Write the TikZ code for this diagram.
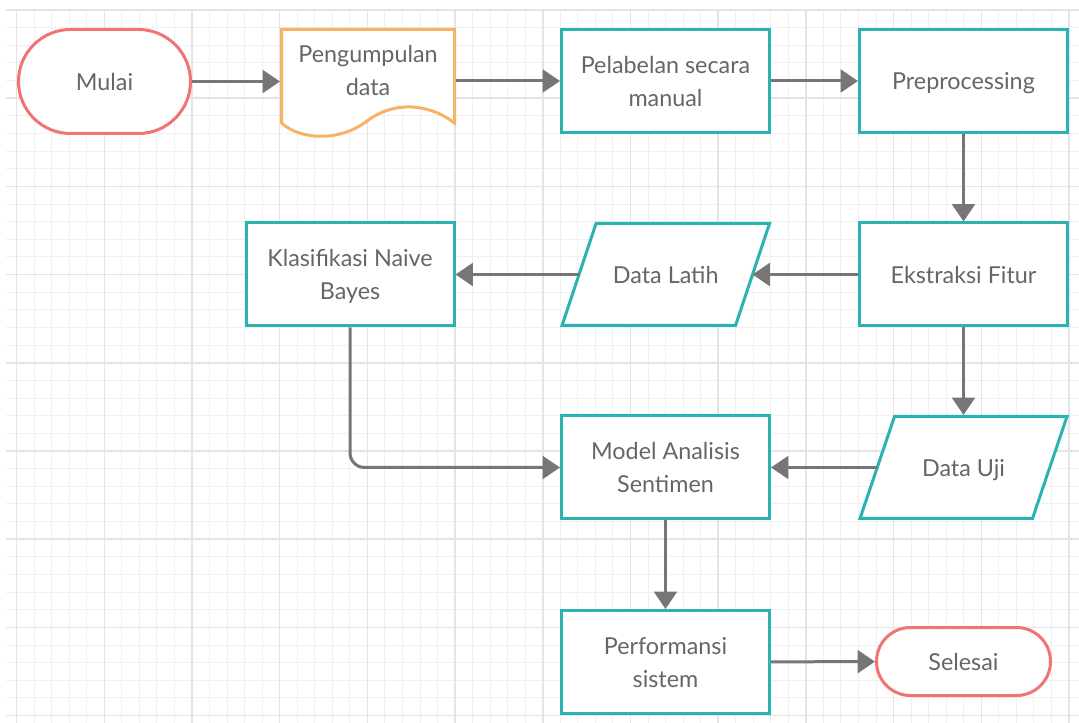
\documentclass[tikz,border=0pt]{standalone}
\usepackage{fontspec}
\setmainfont{Lato}
\usetikzlibrary{arrows.meta}
\definecolor{tosca}{HTML}{2BB3B1}
\definecolor{merah}{HTML}{F17373}
\definecolor{jingga}{HTML}{F8B263}
\definecolor{panahabu}{HTML}{767676}
\definecolor{teksabu}{HTML}{666666}
\definecolor{gridkecil}{HTML}{F0F0F0}
\definecolor{gridbesar}{HTML}{E4E4E4}
\begin{document}
\begin{tikzpicture}[x=0.75pt, y=-0.75pt,
        every node/.style={font=\fontsize{17.5}{24.75}\selectfont, text=teksabu, align=center, text depth=-6pt},
        proses/.style={draw=tosca, line width=2.25pt, fill=white, minimum width=156pt, minimum height=77.25pt},
        data/.style={minimum height=78.75pt, outer sep=0pt},
        garisdata/.style={draw=tosca, fill=white, line width=2.25pt},
        terminal/.style={draw=merah, line width=2.25pt, fill=white},
        panah/.style={draw=panahabu, line width=2.25pt, -{Triangle[length=13pt, width=17pt]}}]
        \useasboundingbox (0,0) rectangle (1079,723);
        \fill[white] (0,0) rectangle (1079,723);
        \foreach \i in {0,...,60} \draw[gridkecil, line width=0.75pt] ({16.6+17.54*\i},10) -- ({16.6+17.54*\i},723);
        \foreach \j in {0,...,40} \draw[gridkecil, line width=0.75pt] (6,{10+17.64*\j}) -- (1079,{10+17.64*\j});
        \foreach \i in {0,...,12} \draw[gridbesar, line width=1.1pt] ({16.6+87.7*\i},10) -- ({16.6+87.7*\i},723);
        \foreach \j in {0,...,8} \draw[gridbesar, line width=1.1pt] (6,{10+88.2*\j}) -- (1079,{10+88.2*\j});

        \node[terminal, rounded corners=39pt, minimum width=129pt, minimum height=78pt] (mulai) at (104.5,81.5) {Mulai};
        \filldraw[draw=jingga, fill=white, line width=2.25pt] (281.5,29.5) -- (454.5,29.5) -- (454.5,123)
            .. controls (430,104) and (395,100) .. (367,121)
            .. controls (340,142) and (300,140) .. (281.5,123) -- cycle;
        \node[minimum width=132pt, outer sep=0pt] (kumpul) at (368,70) {Pengumpulan\\data};
        \node[proses] (pelabelan) at (665.5,81) {Pelabelan secara\\manual};
        \node[proses] (prapro) at (963.5,81) {Preprocessing};
        \node[proses] (ekstraksi) at (963.5,274.5) {Ekstraksi Fitur};
        \filldraw[garisdata] (562,325.5) -- (596,223.5) -- (769.5,223.5) -- (735.5,325.5) -- cycle;
        \node[data, minimum width=130.1pt] (latih) at (665.75,274.5) {Data Latih};
        \node[proses] (klasifikasi) at (350,274.5) {Klasifikasi Naive\\Bayes};
        \node[proses] (model) at (665.5,467.5) {Model Analisis\\Sentimen};
        \filldraw[garisdata] (860,518.5) -- (894.5,416.5) -- (1067,416.5) -- (1032.5,518.5) -- cycle;
        \node[data, minimum width=129.4pt] (uji) at (963.5,467.5) {Data Uji};
        \node[proses] (kinerja) at (665.5,662) {Performansi\\sistem};
        \node[terminal, rounded corners=25.5pt, minimum width=130.5pt, minimum height=51pt] (selesai) at (963.5,661.5) {Selesai};

        \draw[panah] (mulai) -- (mulai -| kumpul.west);
        \draw[panah] (kumpul.east |- pelabelan) -- (pelabelan);
        \draw[panah] (pelabelan) -- (prapro);
        \draw[panah] (prapro) -- (ekstraksi);
        \draw[panah] (ekstraksi) -- (latih);
        \draw[panah] (latih) -- (klasifikasi);
        \draw[panah] (ekstraksi) -- (uji);
        \draw[panah, rounded corners=11pt] (klasifikasi) |- (model);
        \draw[panah] (uji) -- (model);
        \draw[panah] (model) -- (kinerja);
        \draw[panah] (kinerja) -- (selesai);
    \end{tikzpicture}
\end{document}
